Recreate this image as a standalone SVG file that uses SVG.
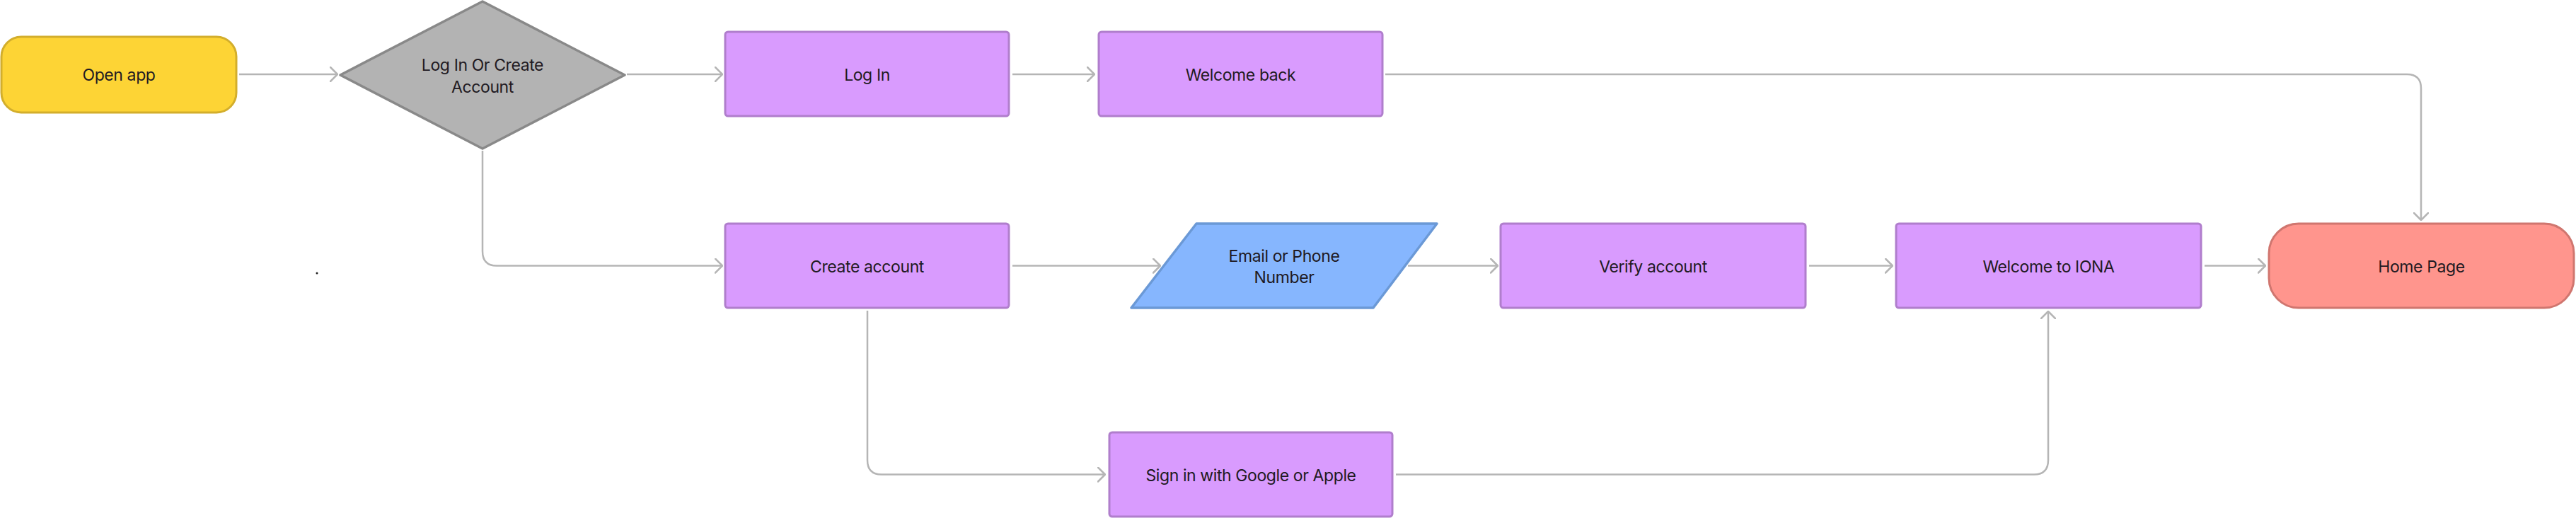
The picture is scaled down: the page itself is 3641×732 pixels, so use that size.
<svg xmlns="http://www.w3.org/2000/svg" width="3641" height="732" viewBox="0 0 3641 732">
  <style>
    .lbl { font-family: Inter, "Liberation Sans", Arial, sans-serif; font-size: 23px; letter-spacing: -0.4px; fill: #1f1a22; text-anchor: middle; }
    .proc { fill: #D99BFE; stroke: #B07ECC; stroke-width: 3; }
    .conn { fill: none; stroke: #B5B5B5; stroke-width: 2.5; marker-end: url(#chev); }
  </style>
  <defs>
    <marker id="chev" viewBox="0 0 12 22" refX="11" refY="11" markerWidth="12" markerHeight="22" markerUnits="userSpaceOnUse" orient="auto">
      <path d="M1,1 L11,11 L1,21" fill="none" stroke="#B5B5B5" stroke-width="2.5" stroke-linecap="round" stroke-linejoin="round"/>
    </marker>
  </defs>
  <rect width="3641" height="732" fill="#ffffff"/>

  <g id="connectors">
    <path class="conn" d="M338,105 H477"/>
    <path class="conn" d="M886,105 H1021"/>
    <path class="conn" d="M1431,105 H1547"/>
    <path class="conn" d="M1958,105 H3402 Q3422,105 3422,125 V311"/>
    <path class="conn" d="M682,213 V355 Q682,375.5 702,375.5 H1021"/>
    <path class="conn" d="M1431,375.5 H1640"/>
    <path class="conn" d="M1990,375.5 H2117"/>
    <path class="conn" d="M2557,375.5 H2675"/>
    <path class="conn" d="M3116,375.5 H3202"/>
    <path class="conn" d="M1226,439 V650 Q1226,670.5 1246,670.5 H1562"/>
    <path class="conn" d="M1973,670.5 H2875 Q2895,670.5 2895,650 V440"/>
  </g>

  <g id="open-app">
    <rect x="2" y="52" width="332" height="107" rx="28" ry="28" fill="#FDD435" stroke="#D3AE2C" stroke-width="3"/>
    <text class="lbl" x="168" y="114">Open app</text>
  </g>

  <g id="decision">
    <polygon points="481,106 682,2 883,106 682,210" fill="#B3B3B3" stroke="#898989" stroke-width="3.5" stroke-linejoin="round"/>
    <text class="lbl" x="682" y="100">Log In Or Create</text>
    <text class="lbl" x="682" y="131">Account</text>
  </g>

  <g id="log-in">
    <rect class="proc" x="1025" y="45" width="401" height="119" rx="4"/>
    <text class="lbl" x="1225.5" y="114">Log In</text>
  </g>

  <g id="welcome-back">
    <rect class="proc" x="1553" y="45" width="401" height="119" rx="4"/>
    <text class="lbl" x="1753.5" y="114">Welcome back</text>
  </g>

  <g id="create-account">
    <rect class="proc" x="1025" y="316" width="401" height="119" rx="4"/>
    <text class="lbl" x="1225.5" y="384.5">Create account</text>
  </g>

  <g id="email-phone">
    <polygon points="1691,316 2031,316 1941,435 1599,435" fill="#86B6FE" stroke="#6B99D6" stroke-width="3.5" stroke-linejoin="round"/>
    <text class="lbl" x="1815" y="370">Email or Phone</text>
    <text class="lbl" x="1815" y="400">Number</text>
  </g>

  <g id="verify-account">
    <rect class="proc" x="2121" y="316" width="431" height="119" rx="4"/>
    <text class="lbl" x="2336.5" y="384.5">Verify account</text>
  </g>

  <g id="welcome-iona">
    <rect class="proc" x="2680" y="316" width="431" height="119" rx="4"/>
    <text class="lbl" x="2895.5" y="384.5">Welcome to IONA</text>
  </g>

  <g id="home-page">
    <rect x="3207" y="316" width="431" height="119" rx="42" ry="42" fill="#FF958D" stroke="#D0766F" stroke-width="3"/>
    <text class="lbl" x="3422.5" y="384.5">Home Page</text>
  </g>

  <g id="sign-in-google-apple">
    <rect class="proc" x="1568" y="611" width="400" height="119" rx="4"/>
    <text class="lbl" x="1768" y="679.5">Sign in with Google or Apple</text>
  </g>

  <circle cx="448" cy="386" r="1.5" fill="#222222"/>
</svg>
